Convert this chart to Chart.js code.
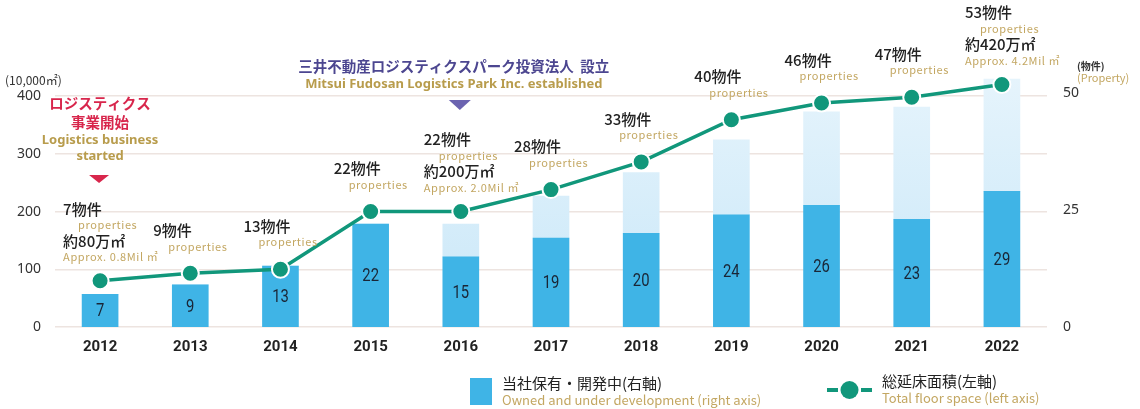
<!DOCTYPE html>
<html>
<head>
<meta charset="utf-8">
<script src="https://cdn.jsdelivr.net/npm/chart.js@4"></script>
<style>
  html, body { margin: 0; padding: 0; background: #fff; }
  #wrap { width: 1140px; height: 409px; }
</style>
</head>
<body>
<div id="wrap"><canvas id="chart" width="1140" height="409"></canvas></div>
<script>
// data
const years = ['2012', '2013', '2014', '2015', '2016', '2017', '2018', '2019', '2020', '2021', '2022'];
const ownedProps = [7, 9, 13, 22, 15, 19, 20, 24, 26, 23, 29];      // right axis, solid bars
const totalProps = [7, 9, 13, 22, 22, 28, 33, 40, 46, 47, 53];      // right axis, full bar height
const floorSpace = [80, 93, 100, 200, 200, 238, 286, 359, 388, 398, 420]; // left axis, 10,000 m2
const areaJa = ['約80万㎡', '', '', '', '約200万㎡', '', '', '', '', '', '約420万㎡'];
const areaEn = ['Approx. 0.8Mil ㎡', '', '', '', 'Approx. 2.0Mil ㎡', '', '', '', '', '', 'Approx. 4.2Mil ㎡'];
const leftTicks = [0, 100, 200, 300, 400];
const rightTicks = [0, 25, 50];

const BLUE = '#3fb4e6';
const TEAL = '#11977b';
const GOLD = '#c3a762';
const JP = '"Noto Sans CJK JP", "Noto Sans", sans-serif';

const pendingProps = totalProps.map((t, i) => t - ownedProps[i]);

function lightBar(context) {
    const { chart } = context;
    const area = chart.chartArea;
    if (!area) return '#d6ecf9';
    const g = chart.ctx.createLinearGradient(0, area.bottom, 0, area.top);
    g.addColorStop(0, '#c9e7f8');
    g.addColorStop(1, '#e6f4fc');
    return g;
}

// numbers inside the solid bars (squeezed to look condensed)
const barNumbers = {
    id: 'barNumbers',
    afterDatasetsDraw(chart) {
        const ctx = chart.ctx;
        const bars = chart.getDatasetMeta(0).data;
        ctx.save();
        ctx.font = '19px Roboto, sans-serif';
        ctx.fillStyle = '#1a2636';
        ctx.textAlign = 'center';
        ctx.textBaseline = 'middle';
        bars.forEach((bar, i) => {
            ctx.save();
            ctx.translate(bar.x, (bar.y + bar.base) / 2 + 1);
            ctx.scale(0.78, 1);
            ctx.fillText(String(ownedProps[i]), 0, 0);
            ctx.restore();
        });
        ctx.restore();
    }
};

// property counts, milestones, axis titles and legend
const annotations = {
    id: 'annotations',
    afterDraw(chart) {
        const ctx = chart.ctx;
        const pts = chart.getDatasetMeta(2).data;
        const xs = chart.scales.x;
        ctx.save();
        ctx.textBaseline = 'middle';
        ctx.textAlign = 'left';

        // labels above each point
        pts.forEach((pt, i) => {
            const lines = [[totalProps[i] + '物件', 'big', 0], ['properties', 'small', 15]];
            if (areaJa[i]) {
                lines.push([areaJa[i], 'big', 0]);
                lines.push([areaEn[i], 'small', 0]);
            }
            const gap = 16;
            const left = pt.x - 37;
            let ly = pt.y - (lines.length > 2 ? 24 : 27) - (lines.length - 1) * gap;
            lines.forEach(([txt, kind, dx]) => {
                if (kind === 'big') {
                    ctx.font = '500 15px ' + JP;
                    ctx.fillStyle = '#222';
                    ctx.letterSpacing = '0px';
                } else {
                    ctx.font = '11px ' + JP;
                    ctx.fillStyle = GOLD;
                    ctx.letterSpacing = '0.6px';
                }
                ctx.fillText(txt, left + dx, ly);
                ly += gap;
            });
        });
        ctx.letterSpacing = '0px';

        // milestone: logistics business started (2012)
        const x0 = xs.getPixelForValue(0);
        ctx.textAlign = 'center';
        ctx.font = 'bold 14.5px ' + JP;
        ctx.fillStyle = '#d8264c';
        ctx.fillText('ロジスティクス', x0, 103);
        ctx.fillText('事業開始', x0, 122);
        ctx.font = 'bold 13px "Noto Sans", sans-serif';
        ctx.fillStyle = '#b89c4c';
        ctx.fillText('Logistics business', x0, 140);
        ctx.fillText('started', x0, 156);
        ctx.fillStyle = '#d8264c';
        ctx.beginPath();
        ctx.moveTo(x0 - 11, 175);
        ctx.lineTo(x0 + 9, 175);
        ctx.lineTo(x0 - 1, 183);
        ctx.closePath();
        ctx.fill();

        // milestone: REIT established (2016)
        const x4 = xs.getPixelForValue(4);
        ctx.font = 'bold 14.5px ' + JP;
        ctx.fillStyle = '#4c4690';
        ctx.fillText('三井不動産ロジスティクスパーク投資法人  設立', x4 - 7, 66);
        ctx.font = 'bold 13px "Noto Sans", sans-serif';
        ctx.fillStyle = '#b89c4c';
        ctx.fillText('Mitsui Fudosan Logistics Park Inc. established', x4 - 7, 84);
        ctx.fillStyle = '#6b63b0';
        ctx.beginPath();
        ctx.moveTo(x4 - 12, 100);
        ctx.lineTo(x4 + 10, 100);
        ctx.lineTo(x4 - 1, 110);
        ctx.closePath();
        ctx.fill();

        // axis titles
        ctx.textAlign = 'left';
        ctx.font = '12px ' + JP;
        ctx.fillStyle = '#333';
        ctx.fillText('(10,000㎡)', 5, 80);
        ctx.font = 'bold 10px ' + JP;
        ctx.fillText('(物件)', 1077, 66);
        ctx.font = '11px ' + JP;
        ctx.fillStyle = GOLD;
        ctx.fillText('(Property)', 1077, 78);

        // legend
        ctx.fillStyle = BLUE;
        ctx.fillRect(470, 378, 22, 27);
        ctx.font = '15px ' + JP;
        ctx.fillStyle = '#222';
        ctx.fillText('当社保有・開発中(右軸)', 502, 383);
        ctx.font = '13px ' + JP;
        ctx.fillStyle = GOLD;
        ctx.fillText('Owned and under development (right axis)', 502, 400);

        ctx.strokeStyle = TEAL;
        ctx.lineWidth = 4;
        ctx.beginPath();
        ctx.moveTo(827, 390); ctx.lineTo(838, 390);
        ctx.moveTo(861, 390); ctx.lineTo(872, 390);
        ctx.stroke();
        ctx.fillStyle = TEAL;
        ctx.beginPath();
        ctx.arc(849.5, 390, 9, 0, Math.PI * 2);
        ctx.fill();
        ctx.font = '15px ' + JP;
        ctx.fillStyle = '#222';
        ctx.fillText('総延床面積(左軸)', 882, 381);
        ctx.font = '13px ' + JP;
        ctx.fillStyle = GOLD;
        ctx.fillText('Total floor space (left axis)', 882, 398);

        ctx.restore();
    }
};

new Chart(document.getElementById('chart'), {
    type: 'bar',
    data: {
        labels: years,
        datasets: [
            {
                label: '当社保有・開発中',
                data: ownedProps,
                yAxisID: 'y1',
                backgroundColor: BLUE,
                barThickness: 36,
                order: 1
            },
            {
                label: '開発中',
                data: pendingProps,
                yAxisID: 'y1',
                backgroundColor: lightBar,
                barThickness: 36,
                order: 1
            },
            {
                type: 'line',
                label: '総延床面積',
                data: floorSpace,
                yAxisID: 'y',
                borderColor: TEAL,
                borderWidth: 3.5,
                pointRadius: 8.5,
                pointBackgroundColor: TEAL,
                pointBorderColor: '#fff',
                pointBorderWidth: 2,
                tension: 0,
                order: 0
            }
        ]
    },
    options: {
        responsive: false,
        animation: false,
        devicePixelRatio: 1,
        layout: { padding: { top: 73, left: 0, right: 0, bottom: 0 } },
        plugins: {
            legend: { display: false },
            tooltip: { enabled: false }
        },
        scales: {
            x: {
                stacked: true,
                grid: { display: false },
                border: { display: false },
                ticks: {
                    padding: 3,
                    color: '#222',
                    font: { family: 'Roboto, sans-serif', size: 15, weight: 'bold' }
                },
                afterFit: scale => { scale.height = 82; }
            },
            y: {
                position: 'left',
                min: 0,
                max: 440,
                afterBuildTicks: scale => { scale.ticks = leftTicks.map(v => ({ value: v })); },
                grid: { color: '#ede4e0', lineWidth: 1.5, drawTicks: false },
                border: { display: false },
                ticks: {
                    padding: 14,
                    color: '#333',
                    font: { family: '"Noto Sans", sans-serif', size: 14 }
                },
                afterFit: scale => { scale.width = 55; }
            },
            y1: {
                position: 'right',
                stacked: true,
                min: 0,
                max: 54.3,
                afterBuildTicks: scale => { scale.ticks = rightTicks.map(v => ({ value: v })); },
                grid: { display: false, drawTicks: false },
                border: { display: false },
                ticks: {
                    padding: 16,
                    color: '#333',
                    font: { family: '"Noto Sans", sans-serif', size: 14 }
                },
                afterFit: scale => { scale.width = 93; }
            }
        }
    },
    plugins: [barNumbers, annotations]
});
</script>
</body>
</html>
